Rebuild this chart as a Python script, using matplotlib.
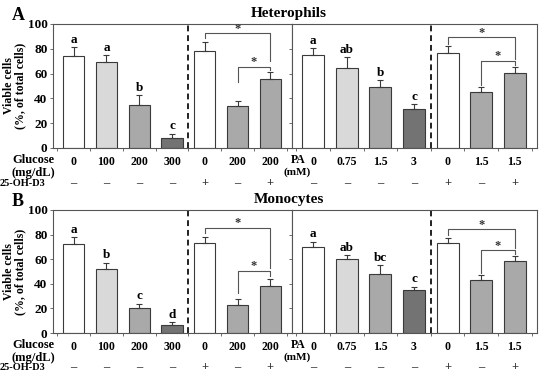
import matplotlib
matplotlib.use("Agg")
import matplotlib.pyplot as plt

# --- data ---
glucose_labels = ["0", "100", "200", "300", "0", "200", "200"]
pa_labels = ["0", "0.75", "1.5", "3", "0", "1.5", "1.5"]
vitd_marks = ["\u2013", "\u2013", "\u2013", "\u2013", "+", "\u2013", "+"]
shade_idx = [0, 1, 2, 3, 0, 2, 2]

het_glu_mean = [74.0, 69.0, 35.0, 8.4, 78.6, 34.0, 55.4]
het_glu_err = [7.3, 6.0, 7.6, 3.2, 6.8, 4.0, 5.7]
het_pa_mean = [75.1, 64.9, 49.5, 31.1, 77.0, 45.1, 60.8]
het_pa_err = [5.4, 8.1, 5.4, 4.3, 5.4, 3.8, 4.9]
mono_glu_mean = [72.4, 52.2, 20.5, 6.8, 73.0, 22.4, 38.6]
mono_glu_err = [5.4, 5.1, 3.3, 1.9, 4.8, 5.1, 5.1]
mono_pa_mean = [69.7, 60.0, 47.6, 35.1, 73.0, 43.0, 58.6]
mono_pa_err = [4.6, 3.5, 7.8, 2.7, 4.6, 4.3, 3.6]

het_glu_letters = ["a", "a", "b", "c"]
het_pa_letters = ["a", "ab", "b", "c"]
mono_glu_letters = ["a", "b", "c", "d"]
mono_pa_letters = ["a", "ab", "bc", "c"]

# significance brackets: (x1, x2, y, left leg end, right leg end)
het_glu_brackets = [(4, 6, 92.7, 89.0, 70.0), (5, 6, 65.7, 53.5, 62.5)]
het_pa_brackets = [(4, 6, 89.2, 84.0, 71.5), (5, 6, 70.5, 50.8, 67.0)]
mono_glu_brackets = [(4, 6, 85.7, 81.6, 53.0), (5, 6, 50.8, 32.4, 46.5)]
mono_pa_brackets = [(4, 6, 84.6, 80.0, 69.0), (5, 6, 67.6, 48.6, 64.0)]

SHADES = ["#ffffff", "#d9d9d9", "#a9a9a9", "#737373"]
EDGE = "#3a3a3a"

plt.rcParams["font.family"] = "Liberation Serif"
plt.rcParams["font.weight"] = "bold"

W, H = 550, 379
fig = plt.figure(figsize=(W / 100, H / 100), dpi=100)


def px_box(x0, x1, ytop, ybot):
    return [x0 / W, 1 - ybot / H, (x1 - x0) / W, (ybot - ytop) / H]


def draw_panel(ax, mean, err, letters, brackets, labels, show_y):
    x = list(range(len(mean)))
    ax.bar(x, mean, width=0.65, color=[SHADES[i] for i in shade_idx],
           edgecolor=EDGE, linewidth=0.8, zorder=2)
    ax.errorbar(x, mean, yerr=[[0] * len(err), err], fmt="none", ecolor=EDGE,
                elinewidth=0.8, capsize=2.5, capthick=0.8, zorder=3)
    for i, lt in enumerate(letters):
        ax.text(i, mean[i] + err[i] + 1.0, lt, ha="center", va="bottom",
                fontsize=9.5, fontweight="bold")
    for x1, x2, yb, l1, l2 in brackets:
        ax.plot([x1, x1, x2, x2], [l1, yb, yb, l2], color="#555555", lw=0.8, zorder=3)
        ax.text((x1 + x2) / 2, yb - 1.5, "*", ha="center", va="bottom",
                fontsize=9, fontweight="bold", color="#333333")
    ax.axvline(3.5, color="#222222", ls=(0, (3, 2)), lw=1.4, zorder=1)
    ax.set_ylim(0, 100)
    ax.set_xlim(-0.63, 6.66)
    ax.set_yticks(range(0, 101, 20))
    if show_y:
        ax.set_yticklabels([str(v) for v in range(0, 101, 20)], fontsize=9.5,
                           fontweight="bold")
    else:
        ax.set_yticklabels([])
    ax.set_xticks(x)
    ax.set_xticklabels(labels, fontsize=8.5, fontweight="bold")
    ax.set_xticks([i + 0.5 for i in range(-1, 7)], minor=True)
    ax.tick_params(axis="x", which="major", length=0, pad=6)
    ax.tick_params(axis="x", which="minor", length=2.5, width=0.6, color="#555555")
    ax.tick_params(axis="y", length=2.5, width=0.6, color="#555555", pad=1.5)
    for s in ax.spines.values():
        s.set_color("#555555")
        s.set_linewidth(0.8)
    for i, m in enumerate(vitd_marks):
        ax.text(i, -0.28, m, transform=ax.get_xaxis_transform(), ha="center",
                va="center", fontsize=9, color="#333333", fontweight="bold")


panels = [
    (24, 148, "A", "Heterophils",
     (het_glu_mean, het_glu_err, het_glu_letters, het_glu_brackets),
     (het_pa_mean, het_pa_err, het_pa_letters, het_pa_brackets)),
    (210, 333, "B", "Monocytes",
     (mono_glu_mean, mono_glu_err, mono_glu_letters, mono_glu_brackets),
     (mono_pa_mean, mono_pa_err, mono_pa_letters, mono_pa_brackets)),
]

for ytop, ybot, tag, title, glu, pa in panels:
    axl = fig.add_axes(px_box(53, 292, ytop, ybot))
    axr = fig.add_axes(px_box(292, 537, ytop, ybot))
    draw_panel(axl, *glu, glucose_labels, True)
    draw_panel(axr, *pa, pa_labels, False)
    axl.set_ylabel("Viable cells\n(%, of total cells)", fontsize=8.5,
                   fontweight="bold", labelpad=1, linespacing=0.95)
    fig.text(289 / W, 1 - (ytop - 11) / H, title, ha="center", va="center",
             fontsize=11, fontweight="bold")
    fig.text(12 / W, 1 - (ytop - 9) / H, tag, ha="left", va="center",
             fontsize=13, fontweight="bold")
    ylab = ybot + 12.5
    fig.text(33 / W, 1 - ylab / H, "Glucose", ha="center", va="center",
             fontsize=9, fontweight="bold")
    fig.text(33 / W, 1 - (ylab + 12.5) / H, "(mg/dL)", ha="center", va="center",
             fontsize=9, fontweight="bold")
    fig.text(298 / W, 1 - ylab / H, "PA", ha="center", va="center",
             fontsize=8.5, fontweight="bold")
    fig.text(297 / W, 1 - (ylab + 11.5) / H, "(mM)", ha="center", va="center",
             fontsize=8, fontweight="bold")
    fig.text(0, 1 - (ybot + 35) / H, "25-OH-D3", ha="left", va="center",
             fontsize=7.5, fontweight="bold")

fig.savefig("out.png", dpi=100)
